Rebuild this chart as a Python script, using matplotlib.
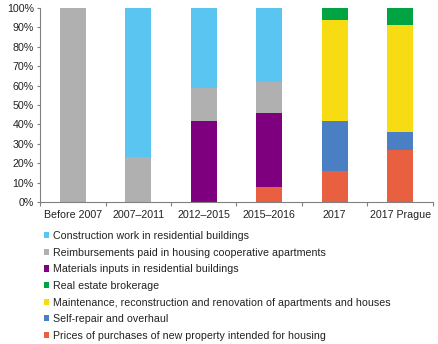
import matplotlib
matplotlib.use("Agg")
import matplotlib.pyplot as plt
from matplotlib.patches import Patch
import numpy as np

categories = ["Before 2007", "2007\u20132011", "2012\u20132015", "2015\u20132016", "2017", "2017 Prague"]

# stacked bottom -> top
prices = [0, 0, 0, 7.9, 16.2, 26.9]
self_repair = [0, 0, 0, 0, 25.4, 9.0]
maintenance = [0, 0, 0, 0, 52.2, 55.3]
real_estate = [0, 0, 0, 0, 6.2, 8.8]
materials = [0, 0, 41.5, 38.2, 0, 0]
reimburse = [100, 23.0, 17.2, 15.7, 0, 0]
construction = [0, 77.0, 41.3, 38.2, 0, 0]

series = [
    ("Prices of purchases of new property intended for housing", prices, "#E8603F"),
    ("Self-repair and overhaul", self_repair, "#4A7FC3"),
    ("Maintenance, reconstruction and renovation of apartments and houses", maintenance, "#F8DC13"),
    ("Real estate brokerage", real_estate, "#00A443"),
    ("Materials inputs in residential buildings", materials, "#7F007F"),
    ("Reimbursements paid in housing cooperative apartments", reimburse, "#B0B0B0"),
    ("Construction work in residential buildings", construction, "#5BC5F2"),
]

plt.rcParams['font.family'] = ['Liberation Sans', 'DejaVu Sans']
fs = 7.7

fig = plt.figure(figsize=(4.39, 3.44), dpi=100)
ax = fig.add_axes([40/439, 1-202/344, 393/439, 194/344])

x = np.arange(len(categories))
bottom = np.zeros(len(categories))
handles = []
for label, vals, color in series:
    v = np.array(vals, dtype=float)
    ax.bar(x, v, 0.4, bottom=bottom, color=color, linewidth=0)
    bottom += v
    handles.append(Patch(facecolor=color, label=label))

ax.set_xlim(-0.5, len(categories) - 0.5)
ax.set_ylim(0, 100)
ax.set_yticks(np.arange(0, 101, 10))
ax.set_yticklabels([f"{t}%" for t in range(0, 101, 10)], fontsize=fs, color="#222222")
ax.set_xticks(x)
ax.set_xticklabels(categories, fontsize=fs, color="#222222")
ax.set_xticks(np.arange(-0.5, len(categories), 1.0), minor=True)
ax.tick_params(axis='x', which='major', length=0, pad=6)
ax.tick_params(axis='x', which='minor', length=3, color="#808080", width=0.8)
ax.tick_params(axis='y', length=2.5, color="#808080", width=0.8, pad=2)
for s in ["top", "right"]:
    ax.spines[s].set_visible(False)
for s in ["left", "bottom"]:
    ax.spines[s].set_color("#808080")
    ax.spines[s].set_linewidth(0.8)

leg = fig.legend(handles=handles[::-1], loc="upper left",
                 bbox_to_anchor=(44/439, 1-231/344), frameon=False,
                 fontsize=fs, handlelength=0.5, handleheight=0.5,
                 handletextpad=0.35, labelspacing=0.62, borderaxespad=0,
                 borderpad=0)
for t in leg.get_texts():
    t.set_color("#222222")

fig.savefig("out.png", dpi=100)
